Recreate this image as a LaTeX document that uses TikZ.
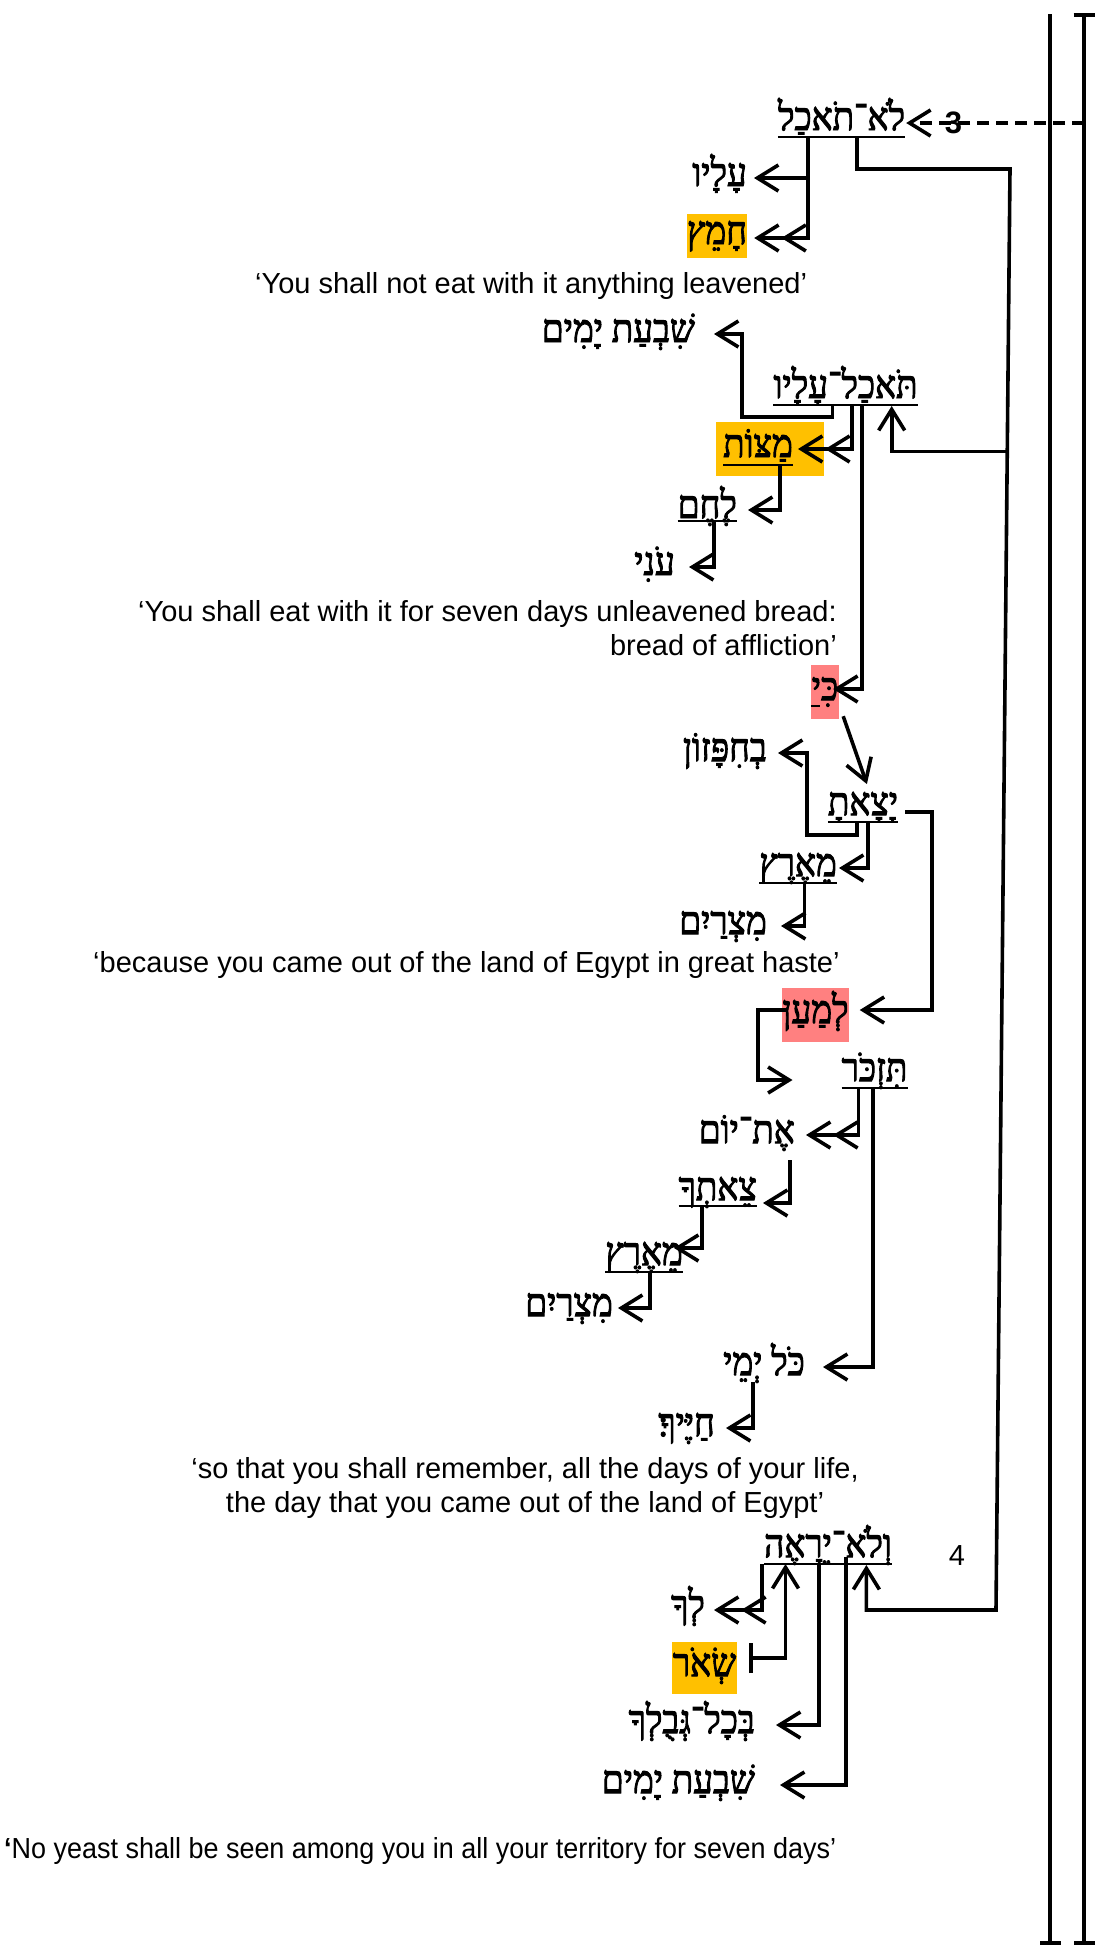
\documentclass[tikz,border=0pt]{standalone}
\usepackage{fontspec}
\setmainfont{Liberation Sans}
\newfontfamily\hebfont[Script=Hebrew,FakeBold=2.5,FakeStretch=0.9]{Liberation Serif}
\usetikzlibrary{arrows.meta,calc}
\TeXXeTstate=1
\newcommand\hb[1]{\beginR#1\endR}
\newcommand\hebsize{\fontsize{39}{43}\selectfont\hebfont}
\newcommand\engsize{\fontsize{29}{34.5}\selectfont}
\definecolor{hlorange}{RGB}{255,192,0}
\definecolor{hlpink}{RGB}{255,128,128}
\tikzset{
  >={Straight Barb[length=21pt,width=26pt,sep=1pt]},
  con/.style={line width=3.6pt},
  dcon/.style={con, dash pattern=on 12pt off 7pt},
  ul/.style={line width=2.2pt},
  barline/.style={line width=3.8pt},
  heb/.style={font=\hebsize, inner ysep=0pt, text height=24pt, text depth=8pt},
  eng/.style={font=\engsize, inner sep=0pt},
}
\begin{document}
\begin{tikzpicture}[x=1pt,y=-1pt]
\fill[white] (0,0) rectangle (1098,1955);
\useasboundingbox (0,0) rectangle (1098,1955);

% ---- right bars
\draw[barline, -{Bar[width=21pt]}] (1050,14) -- (1050,1945);
\draw[barline, {Bar[width=21pt]}-{Bar[width=21pt]}] (1084,13) -- (1084,1945);
\coordinate (r3) at (1084,123);

% ================= verse 3a
\node[heb, inner xsep=0pt, anchor=base] (w1) at (841.5,130) {\hb{לֹא־תֹאכַל}};
\coordinate (w1L) at ([yshift=-7pt]w1.base west);
\coordinate (w1R) at ([yshift=-7pt]w1.base east);
\draw[ul] (w1L) -- (w1R);
\draw[dcon,->] (r3) -- node[eng, font=\fontsize{31}{34}\selectfont\bfseries, pos=0.73] (n3) {3} (r3 -| w1.east);

\node[heb, inner xsep=6pt, anchor=base east] (alayv) at (753,186) {\hb{עָלָיו}};
\node[heb, fill=hlorange, inner xsep=0pt, minimum width=60pt, minimum height=44pt] (hamets) at (717,236) {\hb{חָמֵץ}};
\draw[con,->] ($(w1L)!0.236!(w1R)$) |- (alayv.east);
\draw[con,->>] ($(w1L)!0.236!(w1R)$) |- ([xshift=6pt,yshift=-2pt]hamets.east);

\node[eng, anchor=base west] (t1) at (255,293) {‘You shall not eat with it anything leavened’};

% ================= verse 3b
\node[heb, inner xsep=0pt, anchor=base] (w2) at (845.5,398) {\hb{תֹּאכַל־עָלָיו}};
\coordinate (w2L) at ([yshift=-7pt]w2.base west);
\coordinate (w2R) at ([yshift=-7pt]w2.base east);
\draw[ul] (w2L) -- (w2R);

\node[heb, inner xsep=18pt, anchor=base east] (shivA) at (713,342) {\hb{שִׁבְעַת יָמִים}};
\draw[con,->] ($(w2L)!0.41!(w2R)$) |- (742,417) |- (shivA.east);

\node[heb, fill=hlorange, inner xsep=7pt, minimum height=54pt, anchor=west] (matsot) at (716,449) {\hb{מַצּוֹת}\hspace*{24pt}};
\coordinate (matsotL) at ([xshift=7pt,yshift=-8pt]matsot.base west);
\coordinate (matsotR) at ([xshift=-31pt,yshift=-8pt]matsot.base east);
\draw[ul] (matsotL) -- (matsotR);
\draw[con,->>] ($(w2L)!0.545!(w2R)$) |- ([xshift=-27pt]matsot.east);

\node[heb, inner xsep=10pt, anchor=base east] (lehem) at (747,518) {\hb{לֶחֶם}};
\coordinate (lehemL) at ([xshift=10pt,yshift=-3pt]lehem.base west);
\coordinate (lehemR) at ([xshift=-10pt,yshift=-3pt]lehem.base east);
\draw[ul] (lehemL) -- (lehemR);
\draw[con,->] ($(matsotL)!0.815!(matsotR)$) |- (lehem.east);

\node[heb, inner xsep=13pt, anchor=base east] (oni) at (688,575) {\hb{עֹנִי}};
\draw[con,->] ($(lehemL)!0.614!(lehemR)$) |- (oni.east);

\node[eng, anchor=north east, align=right] (t2) at (837,600) {‘You shall eat with it for seven days unleavened bread:\\bread of affliction’};

% ================= verse 3c
\node[heb, fill=hlpink, inner xsep=0pt, minimum width=28pt, minimum height=54pt] (ki) at (825,692) {\hb{כִּי}};
\draw[ul] ([yshift=-6pt]ki.base west) -- ++(9,0);
\draw[con,->] ($(w2L)!0.614!(w2R)$) |- ([xshift=-7pt,yshift=3pt]ki.east);

\node[heb, inner xsep=0pt, anchor=base] (w3) at (863,815) {\hb{יָצָאתָ}};
\coordinate (w3L) at ([yshift=-7pt]w3.base west);
\coordinate (w3R) at ([yshift=-7pt]w3.base east);
\draw[ul] (w3L) -- (w3R);
\draw[con,->] ([xshift=4pt,yshift=3pt]ki.south east) -- ($(w3L)!0.56!(w3R)+(0,-37)$);

\node[heb, inner xsep=10pt, anchor=base east] (behipazon) at (777,761) {\hb{בְחִפָּזוֹן}};
\draw[con,->] ($(w3L)!0.414!(w3R)$) |- (807,835) |- (behipazon.east);

\node[heb, inner xsep=1pt, anchor=base east] (mearetsA) at (838,876) {\hb{מֵאֶרֶץ}};
\coordinate (mearetsAL) at ([xshift=1pt,yshift=-7pt]mearetsA.base west);
\coordinate (mearetsAR) at ([xshift=-1pt,yshift=-7pt]mearetsA.base east);
\draw[ul] (mearetsAL) -- (mearetsAR);
\draw[con,->] ($(w3L)!0.571!(w3R)$) |- (mearetsA.east);

\node[heb, inner xsep=13pt, anchor=base east] (mitsA) at (780,934) {\hb{מִצְרַיִם}};
\draw[con,->] ($(mearetsAL)!0.584!(mearetsAR)$) |- (mitsA.east);

\node[eng, anchor=base west] (t3) at (93,972) {‘because you came out of the land of Egypt in great haste’};

% ================= purpose clause
\node[heb, fill=hlpink, inner xsep=0pt, minimum width=65pt, minimum height=54pt] (lemaan) at (815.5,1015) {\hb{לְמַעַן}};
\draw[con,->] ([xshift=7pt,yshift=-5pt]w3.east) -| (932,1010) -- ([xshift=10pt,yshift=5pt]lemaan.east);

\node[heb, inner xsep=0pt, anchor=base] (tizkor) at (874.5,1081) {\hb{תִּזְכֹּר}};
\coordinate (tizkorL) at ([yshift=-7pt]tizkor.base west);
\coordinate (tizkorR) at ([yshift=-7pt]tizkor.base east);
\draw[ul] (tizkorL) -- (tizkorR);
\coordinate (tzin) at ([xshift=-48pt,yshift=1pt]tizkor.base west);
\draw[con,->] ([xshift=4pt,yshift=5pt]lemaan.west) -| (758,1045) |- (tzin);

\node[heb, inner xsep=10pt, anchor=base east] (etyom) at (805,1143) {\hb{אֶת־יוֹם}};
\draw[con,->>] ($(tizkorL)!0.26!(tizkorR)$) |- (etyom.east);

\node[heb, inner xsep=17pt, anchor=base east] (kolyeme) at (822,1375) {\hb{כֹּל יְמֵי}};
\draw[con,->] ($(tizkorL)!0.478!(tizkorR)$) |- (kolyeme.east);

\node[heb, inner xsep=5pt, anchor=base east] (tseteka) at (762,1200) {\hb{צֵאתְךָ}};
\coordinate (tsetekaL) at ([xshift=5pt,yshift=-6pt]tseteka.base west);
\coordinate (tsetekaR) at ([xshift=-5pt,yshift=-6pt]tseteka.base east);
\draw[ul] (tsetekaL) -- (tsetekaR);
\draw[con,->] ([xshift=-15pt,yshift=-17pt]etyom.base east) |- ([yshift=-3pt]tseteka.base east);

\node[heb, inner xsep=0pt, anchor=base east] (mearetsB) at (683,1265) {\hb{מֵאֶרֶץ}};
\coordinate (mearetsBL) at ([yshift=-7pt]mearetsB.base west);
\coordinate (mearetsBR) at ([yshift=-7pt]mearetsB.base east);
\draw[ul] (mearetsBL) -- (mearetsBR);
\draw[con,->] ($(tsetekaL)!0.30!(tsetekaR)$) |- ([xshift=-10pt,yshift=17pt]mearetsB.base east);

\node[heb, inner xsep=4pt, anchor=base east] (mitsB) at (617,1316) {\hb{מִצְרַיִם}};
\draw[con,->] ($(mearetsBL)!0.576!(mearetsBR)$) |- (mitsB.east);

\node[heb, inner xsep=10pt, anchor=base east] (hayekha) at (725,1436) {\hb{חַיֶּיךָ׃}};
\draw[con,->] ([xshift=-69pt,yshift=-7pt]kolyeme.base east) |- (hayekha.east);

\node[eng, anchor=north, align=center] (t4) at (525,1457) {‘so that you shall remember, all the days of your life,\\the day that you came out of the land of Egypt’};

% ================= verse 4
\node[heb, inner xsep=0pt, anchor=base] (w5) at (828,1557) {\hb{וְלֹא־יֵרָאֶה}};
\coordinate (w5L) at ([yshift=-7pt]w5.base west);
\coordinate (w5R) at ([yshift=-7pt]w5.base east);
\draw[ul] (w5L) -- (w5R);
\node[eng, anchor=base] (v4) at (957,1565) {4};

\node[heb, inner xsep=8pt, anchor=base east] (lekha) at (713,1618) {\hb{לְךָ}};
\draw[con,->>] ([xshift=-2pt]w5L) |- (lekha.east);

\node[heb, fill=hlorange, inner xsep=0pt, minimum width=65pt, minimum height=52pt] (seor) at (704.5,1668) {\hb{שְׂאֹר}};
\draw[con,{Bar[width=30pt]}-{Straight Barb[length=21pt,width=26pt]}] ([xshift=12pt,yshift=10pt]seor.east) -| ($(w5L)!0.168!(w5R)$);

\node[heb, inner xsep=20pt, anchor=base east] (bekhol) at (775,1733) {\hb{בְּכָל־גְּבֻלְךָ}};
\draw[con,->] ($(w5L)!0.43!(w5R)$) |- (bekhol.east);

\node[heb, inner xsep=24pt, anchor=base east] (shivB) at (779,1793) {\hb{שִׁבְעַת יָמִים}};
\draw[con,->] ($(w5L)!0.64!(w5R)+(0,-7)$) |- (shivB.east);

\node[eng, anchor=base west] (t5) at (4,1858) {\scalebox{0.93}[1]{\textbf{‘}No yeast shall be seen among you in all your territory for seven days’}};

% ---- long right-hand connector
\coordinate (k1) at (1010,169);
\coordinate (k2) at (996,1610);
\draw[con,->] ($(w1L)!0.622!(w1R)$) |- (k1) -- (k2) -| ($(w5L)!0.80!(w5R)$);
\draw[con,->] ($(k1)!0.196!(k2)$) -| ($(w2L)!0.82!(w2R)$);
\end{tikzpicture}
\end{document}
